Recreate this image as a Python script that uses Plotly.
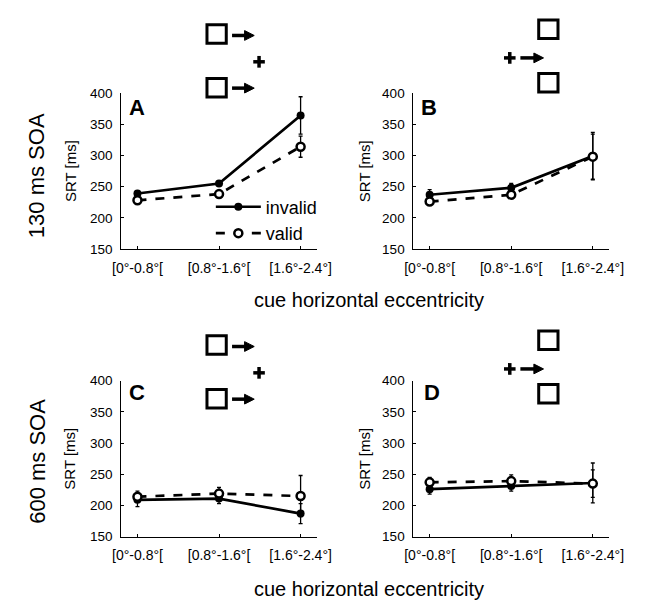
import plotly.graph_objects as go

# page is offset by the browser's 8px body margin; figure fills the rest
OFF = 8
W, H = 645, 601

categories = ["[0°-0.8°[", "[0.8°-1.6°[", "[1.6°-2.4°]"]
xpos = [1, 2, 3]

# SRT means (ms) and error bars, per panel
A_invalid = [239, 255, 364]
A_invalid_err = [4, 4, 30]
A_valid = [228, 238, 314]
A_valid_err = [5, 4, 17]

B_invalid = [237, 248, 299]
B_invalid_err = [8, 7, 38]
B_valid = [226, 237, 298]
B_valid_err = [6, 6, 36]

C_invalid = [209, 211, 187]
C_invalid_err = [11, 8, 16]
C_valid = [214, 219, 215]
C_valid_err = [9, 10, 33]

D_invalid = [226, 231, 236]
D_invalid_err = [8, 8, 32]
D_valid = [237, 239, 235]
D_valid_err = [8, 10, 22]

yticks = [150, 200, 250, 300, 350, 400]

panels = [
    ("A", A_invalid, A_invalid_err, A_valid, A_valid_err),
    ("B", B_invalid, B_invalid_err, B_valid, B_valid_err),
    ("C", C_invalid, C_invalid_err, C_valid, C_valid_err),
    ("D", D_invalid, D_invalid_err, D_valid, D_valid_err),
]

# panel pixel boxes in screenshot coords: (left, right, top, bottom)
boxes = [(116, 319, 88, 248), (419, 622, 88, 248),
         (116, 319, 383, 543), (419, 622, 383, 543)]
letters_xy = [(132, 103), (435, 103), (132, 395), (438, 395)]
ytitle_xy = [(63, 168), (368, 168), (63, 463), (368, 463)]


def px(x, y):
    return (x - OFF) / W, 1 - (y - OFF) / H


fig = go.Figure()
FONT = "Liberation Sans, Arial, sans-serif"

for i, (name, inv, inv_e, val, val_e) in enumerate(panels):
    k = "" if i == 0 else str(i + 1)
    xa, ya = "x" + k, "y" + k
    fig.add_trace(go.Scatter(
        x=xpos, y=inv, xaxis=xa, yaxis=ya, mode="lines+markers", name="invalid",
        line=dict(color="black", width=2.7),
        marker=dict(symbol="circle", size=8, color="black"),
        error_y=dict(type="data", array=inv_e, color="black", thickness=1.3, width=2),
        showlegend=(i == 0)))
    fig.add_trace(go.Scatter(
        x=xpos, y=val, xaxis=xa, yaxis=ya, mode="lines+markers", name="valid",
        line=dict(color="black", width=2.7, dash="dash"),
        marker=dict(symbol="circle", size=8, color="white",
                    line=dict(color="black", width=2.5)),
        error_y=dict(type="data", array=val_e, color="black", thickness=1.3, width=2),
        showlegend=(i == 0)))

    l, r, t, b = boxes[i]
    x0, y0 = px(l, b)
    x1, y1 = px(r, t)
    common = dict(showline=True, linecolor="black", linewidth=1,
                  ticks="inside", ticklen=3, tickcolor="black",
                  showgrid=False, zeroline=False)
    fig.layout["xaxis" + k] = dict(
        domain=[x0, x1], anchor=ya, range=[0.8, 3.2],
        tickvals=xpos, ticktext=categories, ticklabelstandoff=6,
        tickfont=dict(family=FONT, size=14, color="black"), **common)
    fig.layout["yaxis" + k] = dict(
        domain=[y0, y1], anchor=xa, range=[150, 400],
        tickvals=yticks, ticklabelstandoff=5,
        tickfont=dict(family=FONT, size=13.5, color="black"), **common)

    lx, ly = px(*letters_xy[i])
    fig.add_annotation(x=lx, y=ly, xref="paper", yref="paper",
                       text="<b>%s</b>" % name, showarrow=False,
                       font=dict(family=FONT, size=22, color="black"),
                       xanchor="center", yanchor="middle")
    tx, ty = px(*ytitle_xy[i])
    fig.add_annotation(x=tx, y=ty, xref="paper", yref="paper", text="SRT [ms]",
                       showarrow=False, textangle=-90,
                       font=dict(family=FONT, size=15, color="black"),
                       xanchor="center", yanchor="middle")

shapes = []


def square(xa0, ya0, xa1, ya1):
    a, b = px(xa0, ya0)
    c, d = px(xa1, ya1)
    shapes.append(dict(type="rect", xref="paper", yref="paper", x0=a, y0=b, x1=c, y1=d,
                       line=dict(color="black", width=3), fillcolor="rgba(0,0,0,0)"))


def arrow(xs, xe, y):
    a, b = px(xs, y)
    c, _ = px(xe - 8, y)
    shapes.append(dict(type="line", xref="paper", yref="paper", x0=a, y0=b, x1=c, y1=b,
                       line=dict(color="black", width=3.5)))
    p1 = px(xe - 10, y - 5)
    p2 = px(xe, y)
    p3 = px(xe - 10, y + 5)
    path = "M %f %f L %f %f L %f %f Z" % (p1[0], p1[1], p2[0], p2[1], p3[0], p3[1])
    shapes.append(dict(type="path", xref="paper", yref="paper", path=path,
                       fillcolor="black", line=dict(color="black", width=1)))


def plus(x, y, s=6):
    a, b = px(x - s, y)
    c, d = px(x + s, y)
    shapes.append(dict(type="line", xref="paper", yref="paper", x0=a, y0=b, x1=c, y1=d,
                       line=dict(color="black", width=3.5)))
    a, b = px(x, y - s)
    c, d = px(x, y + s)
    shapes.append(dict(type="line", xref="paper", yref="paper", x0=a, y0=b, x1=c, y1=d,
                       line=dict(color="black", width=3.5)))


# icons: peripheral cue conditions (A, C)
for dy in (0, 319):
    square(205, 18 + dy, 225, 37 + dy)
    arrow(231, 254, 29 + dy)
    plus(259, 56 + dy)
    square(205, 73 + dy, 225, 92 + dy)
    arrow(231, 254, 83 + dy)
# central cue conditions (B, D)
for dy in (0, 319):
    square(549, 13 + dy, 569, 32 + dy)
    plus(519, 52 + dy)
    arrow(530, 554, 52 + dy)
    square(549, 68 + dy, 569, 87 + dy)

fig.update_layout(shapes=shapes)

for yy in (300, 597):
    x, y = px(373, yy)
    fig.add_annotation(x=x, y=y, xref="paper", yref="paper",
                       text="cue horizontal eccentricity", showarrow=False,
                       xanchor="center", yanchor="middle",
                       font=dict(family=FONT, size=20, color="black"))
for yy, txt in ((173, "130 ms SOA"), (466, "600 ms SOA")):
    x, y = px(29, yy)
    fig.add_annotation(x=x, y=y, xref="paper", yref="paper", text=txt,
                       showarrow=False, textangle=-90,
                       xanchor="center", yanchor="middle",
                       font=dict(family=FONT, size=22, color="black"))

lx, ly = px(209, 186)
fig.update_layout(
    width=W, height=H, margin=dict(l=0, r=0, t=0, b=0),
    paper_bgcolor="white", plot_bgcolor="white",
    legend=dict(x=lx, y=ly, xanchor="left", yanchor="top",
                bgcolor="rgba(0,0,0,0)", font=dict(family=FONT, size=18, color="black"),
                itemwidth=45, tracegroupgap=0),
)

fig.write_html("out.html")
